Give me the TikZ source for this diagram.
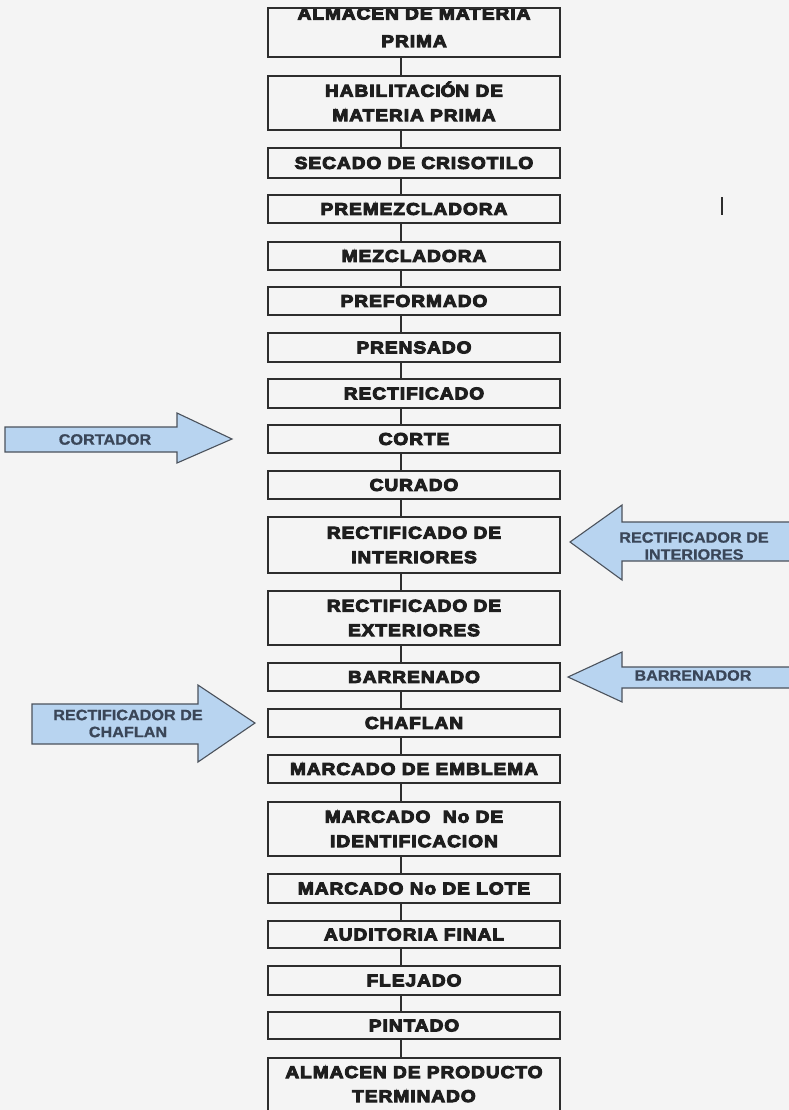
\documentclass[tikz,border=0pt]{standalone}
\usepackage{fontspec}
\newfontfamily\boxfont[FakeStretch=1.12,FakeBold=6,LetterSpace=6]{Liberation Sans Bold}
\newfontfamily\arrfont[FakeStretch=1.08,FakeBold=1]{Liberation Sans Bold}
\definecolor{bg}{RGB}{244,244,244}
\definecolor{boxline}{RGB}{45,45,45}
\definecolor{boxtext}{RGB}{30,30,30}
\definecolor{arrfill}{RGB}{184,212,240}
\definecolor{arrline}{RGB}{75,82,92}
\definecolor{arrtext}{RGB}{58,70,88}
\tikzset{
  pbox/.style={draw=boxline, line width=1.9pt, minimum width=292pt, inner sep=0pt,
    align=center, text=boxtext, font=\boxfont\fontsize{17}{24.5}\selectfont},
  ptext/.style={inner sep=0pt, anchor=base, text=boxtext, font=\boxfont\fontsize{17}{24.5}\selectfont},
  conn/.style={draw=boxline, line width=1.5pt},
  blockarrow/.style={draw=arrline, line width=1.1pt, fill=arrfill, line join=miter},
  arrlabel/.style={inner sep=0pt, align=center, text=arrtext, font=\arrfont\fontsize{15}{17}\selectfont}
}
\newcommand\procbox[4]{\node[pbox, minimum height={#3-#2}] (#1) at (414,{(#2+#3)/2}) {#4};}
\begin{document}
\begin{tikzpicture}[x=1pt,y=-1pt]
\fill[bg] (0,0) rectangle (789,1110);
\useasboundingbox (0,0) rectangle (789,1110);
\coordinate (cx) at (401,0);
% first box (text clipped at its top)
\node[pbox, minimum height=49] (b1) at (414,32.5) {};
\begin{scope}
  \clip (268,9.5) rectangle (560,57);
  \node[ptext] (b1a) at (414,19.5) {ALMACEN DE MATERIA};
\end{scope}
\node[ptext] (b1b) at (414,47) {PRIMA};
\procbox{b2}{76}{130}{HABILITACI\smash{Ó}N DE\\MATERIA PRIMA}
\procbox{b3}{148}{178}{SECADO DE CRISOTILO}
\procbox{b4}{195}{223}{PREMEZCLADORA}
\procbox{b5}{242}{270}{MEZCLADORA}
\procbox{b6}{287}{315}{PREFORMADO}
\procbox{b7}{333}{362}{PRENSADO}
\procbox{b8}{379}{408}{RECTIFICADO}
\procbox{b9}{425}{453}{CORTE}
\procbox{b10}{471}{499}{CURADO}
\procbox{b11}{517}{573}{RECTIFICADO DE\\INTERIORES}
\procbox{b12}{591}{645}{RECTIFICADO DE\\EXTERIORES}
\procbox{b13}{663}{691}{BARRENADO}
\procbox{b14}{709}{737}{CHAFLAN}
\procbox{b15}{755}{783}{MARCADO DE EMBLEMA}
\procbox{b16}{802}{856}{MARCADO\ \ No DE\\IDENTIFICACION}
\procbox{b17}{874}{903}{MARCADO No DE LOTE}
\procbox{b18}{921}{948}{AUDITORIA FINAL}
\procbox{b19}{966}{995}{FLEJADO}
\procbox{b20}{1012}{1039}{PINTADO}
% last box runs off the bottom edge
\node[pbox, minimum height=60] (b21) at (414,1088) {};
\node[ptext] (b21a) at (414,1078) {ALMACEN DE PRODUCTO};
\node[ptext] (b21b) at (414,1102) {TERMINADO};
% connectors
\foreach \a/\b in {b1/b2,b2/b3,b3/b4,b4/b5,b5/b6,b6/b7,b7/b8,b8/b9,b9/b10,b10/b11,b11/b12,b12/b13,b13/b14,b14/b15,b15/b16,b16/b17,b17/b18,b18/b19,b19/b20,b20/b21}
  \draw[conn] (\a.south -| cx) -- (\b.north -| cx);
% block arrows
\draw[blockarrow] (5,427) -- (177,427) -- (177,413) -- (232,439) -- (177,463) -- (177,452) -- (5,452) -- cycle;
\node[arrlabel] (acort) at (105,439.5) {CORTADOR};
\draw[blockarrow] (795,522) -- (622,522) -- (622,505) -- (570,542) -- (622,580) -- (622,561) -- (795,561) -- cycle;
\node[arrlabel] (aint) at (694,546) {RECTIFICADOR DE\\INTERIORES};
\draw[blockarrow] (795,667) -- (622,667) -- (622,652) -- (568,677) -- (622,702) -- (622,688) -- (795,688) -- cycle;
\node[arrlabel] (abarr) at (693,675.5) {BARRENADOR};
\draw[blockarrow] (32,704) -- (198,704) -- (198,685) -- (255,723) -- (198,762) -- (198,744) -- (32,744) -- cycle;
\node[arrlabel] (achaf) at (128,723.5) {RECTIFICADOR DE\\CHAFLAN};
% stray mark
\draw[draw=boxline, line width=1.6pt] (722,197) -- (722,215);
\end{tikzpicture}
\end{document}
